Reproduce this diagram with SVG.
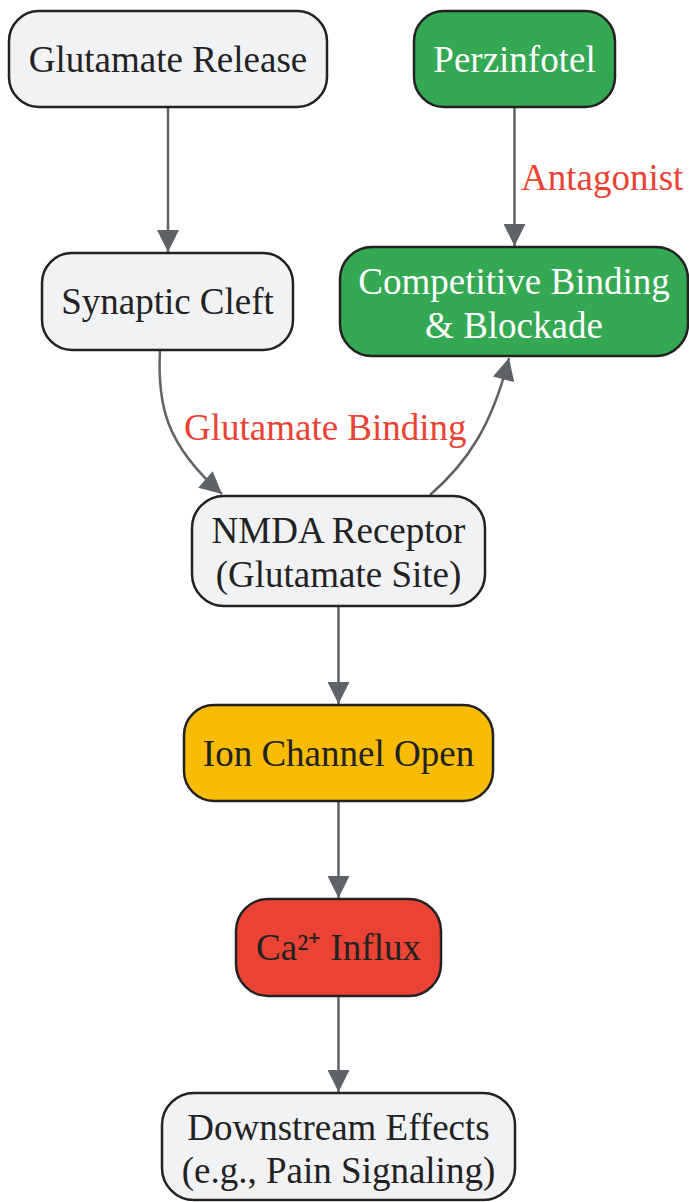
<svg xmlns="http://www.w3.org/2000/svg" width="689" height="1202" viewBox="0 0 689 1202">
<style>
.n rect{stroke:#222222;stroke-width:2.5}
.light rect{fill:#f1f2f4}
.green rect{fill:#34a853}
.yellow rect{fill:#f9bc05}
.red rect{fill:#ea4335}
text{font-family:"Liberation Serif","Times New Roman",serif;font-size:37px;text-anchor:middle;fill:#222222}
.green text{fill:#ffffff}
.lbl{fill:#ea4335;text-anchor:start}
.e{fill:none;stroke:#5f6368;stroke-width:2.5}
</style>
<defs>
<marker id="ah" viewBox="0 0 10 10" refX="10" refY="5" markerWidth="31" markerHeight="22" markerUnits="userSpaceOnUse" orient="auto">
<path d="M0,0 L10,5 L0,10 z" fill="#5f6368"/>
</marker>
</defs>
<g id="edges">
<path class="e" d="M168,107 L168,252" marker-end="url(#ah)"/>
<path class="e" d="M514.5,107 L514.5,246" marker-end="url(#ah)"/>
<path class="e" d="M160,350 C157,405 166,445 222,494" marker-end="url(#ah)"/>
<path class="e" d="M430,495 C468,462 492,425 509,358" marker-end="url(#ah)"/>
<path class="e" d="M338.5,606 L338.5,704" marker-end="url(#ah)"/>
<path class="e" d="M338.5,801 L338.5,898" marker-end="url(#ah)"/>
<path class="e" d="M338.5,996 L338.5,1092" marker-end="url(#ah)"/>
<text class="lbl" x="521" y="190">Antagonist</text>
<text class="lbl" x="184" y="440">Glutamate Binding</text>
</g>
<g id="glutamate-release" class="n light">
<rect x="9" y="11" width="318" height="96" rx="30"/>
<text x="168" y="72">Glutamate Release</text>
</g>
<g id="perzinfotel" class="n green">
<rect x="414" y="11" width="201" height="96" rx="30"/>
<text x="514.5" y="72">Perzinfotel</text>
</g>
<g id="synaptic-cleft" class="n light">
<rect x="42" y="253" width="251" height="97" rx="30"/>
<text x="167.5" y="314">Synaptic Cleft</text>
</g>
<g id="competitive-binding" class="n green">
<rect x="340" y="247" width="348" height="109" rx="32"/>
<text x="514" y="294">Competitive Binding</text>
<text x="514" y="338">&amp; Blockade</text>
</g>
<g id="nmda-receptor" class="n light">
<rect x="192" y="496" width="293" height="110" rx="32"/>
<text x="338.5" y="543">NMDA Receptor</text>
<text x="338.5" y="587">(Glutamate Site)</text>
</g>
<g id="ion-channel-open" class="n yellow">
<rect x="184" y="705" width="309" height="96" rx="30"/>
<text x="338.5" y="766">Ion Channel Open</text>
</g>
<g id="ca-influx" class="n red">
<rect x="236" y="899" width="205" height="97" rx="32"/>
<text x="338.5" y="960">Ca²⁺ Influx</text>
</g>
<g id="downstream-effects" class="n light">
<rect x="162" y="1093" width="353" height="107" rx="32"/>
<text x="338.5" y="1140">Downstream Effects</text>
<text x="338.5" y="1183">(e.g., Pain Signaling)</text>
</g>
</svg>
